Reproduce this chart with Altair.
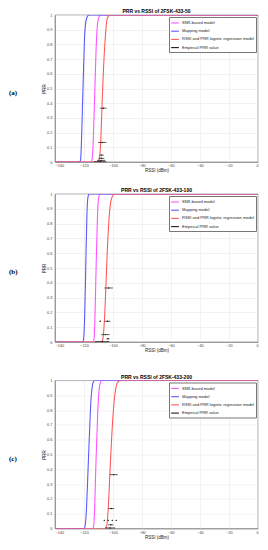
import altair as alt
import pandas as pd

# ---------------- data ----------------
models = ["SNR-based model", "Mapping model",
          "RSSI and PRR logistic regression model", "Empirical PRR value"]
model_colors = ["#ff55ff", "#5a5aff", "#ff5a5a", "#1a1a1a"]

panel_titles = ["PRR vs RSSI of 2FSK-433-50",
                "PRR vs RSSI of 2FSK-433-100",
                "PRR vs RSSI of 2FSK-433-200"]
panel_tags = ["(a)", "(b)", "(c)"]

x_ticks = [-140, -120, -100, -80, -60, -40, -20, 0]
y_ticks = [0, 0.1, 0.2, 0.3, 0.4, 0.5, 0.6, 0.7, 0.8, 0.9, 1]
x_start = -140
x_end = 0

# PRR levels at which the RSSI of each curve was read
curve_levels = [0, 0.02, 0.15, 0.4, 0.6, 0.85, 0.96, 0.99, 1]

# panel (a)
a_snr = [-115.2, -114.4, -113.6, -112.8, -112.2, -111.3, -110.4, -109.5, -108.3]
a_map = [-123.0, -122.3, -121.7, -121.0, -120.4, -119.6, -118.6, -117.6, -116.5]
a_lr = [-110.5, -109.5, -108.4, -107.5, -106.7, -105.3, -104.3, -103.3, -101.5]
a_emp_x = [-106.7, -107.5, -107.9, -108.0, -108.2, -109.0]
a_emp_err = [2.2, 2.85, 1.5, 2.0, 2.8, 4.4]
a_emp_y = [0.366, 0.133, 0.047, 0.025, 0.011, 0.003]

# panel (b)
b_snr = [-113.8, -113.1, -112.5, -111.9, -111.4, -110.7, -110.1, -109.5, -108.7]
b_map = [-121.0, -120.3, -119.6, -119.0, -118.6, -118.0, -117.5, -117.0, -116.3]
b_lr = [-107.8, -107.0, -105.9, -104.8, -104.0, -102.6, -101.3, -100.0, -98.3]
b_emp_x = [-103.0, -103.8, -108.8, -105.2, -103.5, -107.5]
b_emp_err = [2.9, 2.1, 0.3, 2.9, 1.0, 5.0]
b_emp_y = [0.365, 0.14, 0.14, 0.05, 0.022, 0.003]

# panel (c)
c_snr = [-114.0, -113.3, -112.6, -111.9, -111.2, -110.2, -109.3, -108.6, -107.6]
c_map = [-120.0, -119.2, -118.2, -117.2, -116.4, -115.3, -114.3, -113.6, -112.6]
c_lr = [-105.5, -104.3, -103.2, -102.0, -101.0, -99.3, -97.8, -96.5, -94.5]
c_emp_x = [-99.5, -101.2, -106.0, -103.2, -100.5, -97.8, -101.5, -102.0]
c_emp_err = [2.8, 2.0, 0.3, 0.3, 0.3, 0.3, 1.8, 3.5]
c_emp_y = [0.364, 0.135, 0.055, 0.055, 0.055, 0.055, 0.025, 0.004]

FONT = "Liberation Sans"


def curve_frame(xs, name):
    rx = [x_start] + list(xs) + [x_end]
    ry = [0] + list(curve_levels) + [1]
    return pd.DataFrame({"rssi": rx, "prr": ry, "i": list(range(len(rx))),
                         "model": name})


def x_axis():
    return alt.Axis(values=x_ticks, title="RSSI (dBm)", labelPadding=1.5,
                    titlePadding=0.5)


def y_axis():
    return alt.Axis(values=y_ticks, format="~g", title="PRR", labelPadding=3.2,
                    titlePadding=0.5)


def make_panel(k, snr, mapping, lr, ex, ee, ey, w, h):
    xs = alt.Scale(domain=[x_start, x_end], nice=False, zero=False)
    ys = alt.Scale(domain=[0, 1], nice=False)
    cscale = alt.Scale(domain=models, range=model_colors)
    legend = alt.Legend(
        title=None, orient="top-right", offset=2, padding=1.5, rowPadding=1.2,
        labelFontSize=4, labelFont=FONT, labelColor="#222", labelLimit=300,
        labelOffset=2.5, symbolType="stroke", symbolSize=60,
        symbolStrokeWidth=1.1, fillColor="white", strokeColor="#777",
    )
    layers = []
    for name, pts in zip(models[:3], [snr, mapping, lr]):
        df = curve_frame(pts, name)
        layers.append(
            alt.Chart(df).mark_line(strokeWidth=1.1, interpolate="monotone",
                                    clip=True).encode(
                x=alt.X("rssi:Q", scale=xs, axis=x_axis()),
                y=alt.Y("prr:Q", scale=ys, axis=y_axis()),
                order="i:Q",
                color=alt.Color("model:N", scale=cscale, legend=legend),
            )
        )
    emp = pd.DataFrame({
        "c": ex,
        "lo": [c - e for c, e in zip(ex, ee)],
        "hi": [c + e for c, e in zip(ex, ee)],
        "prr": ey,
        "model": models[3],
    })
    rules = alt.Chart(emp).mark_rule(strokeWidth=0.7, color="#1a1a1a").encode(
        x=alt.X("lo:Q", scale=xs, axis=x_axis()),
        x2="hi:Q",
        y=alt.Y("prr:Q", scale=ys, axis=y_axis()),
    )
    points = alt.Chart(emp).mark_point(filled=True, size=2, opacity=1).encode(
        x=alt.X("c:Q", scale=xs, axis=x_axis()),
        y=alt.Y("prr:Q", scale=ys, axis=y_axis()),
        color=alt.Color("model:N", scale=cscale, legend=legend),
    )
    tag = alt.Chart(pd.DataFrame({"t": [panel_tags[k]]})).mark_text(
        font="Liberation Serif", fontWeight="bold", fontSize=7, align="left",
        baseline="middle", color="black"
    ).encode(x=alt.value(-46), y=alt.value(h / 2 + 4), text="t:N")
    title = alt.Chart(pd.DataFrame({"t": [panel_titles[k]]})).mark_text(
        font=FONT, fontWeight="bold", fontSize=5, align="center",
        baseline="middle", color="black"
    ).encode(x=alt.value(w / 2), y=alt.value(-4), text="t:N")
    return alt.layer(*layers, rules, points, tag, title).properties(
        width=w, height=h)


pa = make_panel(0, a_snr, a_map, a_lr, a_emp_x, a_emp_err, a_emp_y, 203, 147)
pb = make_panel(1, b_snr, b_map, b_lr, b_emp_x, b_emp_err, b_emp_y, 203, 148)
pc = make_panel(2, c_snr, c_map, c_lr, c_emp_x, c_emp_err, c_emp_y, 203, 148)

top = alt.vconcat(pa, pb, spacing=14).resolve_scale(
    color="independent").resolve_legend(color="independent")
chart = alt.vconcat(top, pc, spacing=20.5).resolve_scale(
    color="independent").resolve_legend(color="independent").properties(
    padding={"left": 0, "top": 0, "right": 0, "bottom": 0}
).configure_axis(
    labelFontSize=3.8, titleFontSize=4.5, labelFont=FONT, titleFont=FONT,
    labelColor="#444", titleColor="#222", titleFontWeight="normal",
    gridColor="#e4e4e4", gridWidth=0.5, domainColor="#555", domainWidth=0.5,
    ticks=False,
).configure_view(stroke="#555", strokeWidth=0.5)

chart.save("out.html", embed_options={"renderer": "svg", "actions": False})
